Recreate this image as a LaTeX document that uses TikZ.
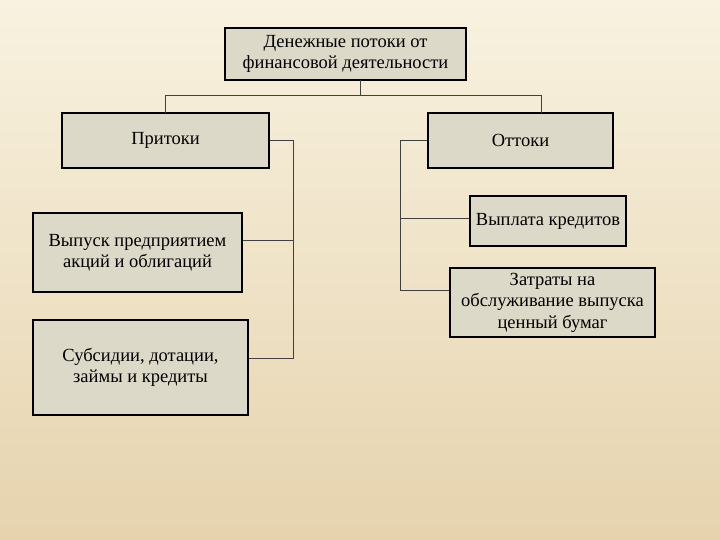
\documentclass[tikz,border=0pt]{standalone}
\usepackage{fontspec}
\setmainfont{Liberation Serif}
\begin{document}
\begin{tikzpicture}[x=1pt,y=-1pt,
  box/.style={draw=black,line width=1.5pt,fill=boxfill,align=center,inner sep=0pt,font=\fontsize{18.5}{21.5}\selectfont},
  conn/.style={draw=black!75,line width=0.9pt}]
\definecolor{boxfill}{HTML}{DDD9C9}
\definecolor{bgtop}{HTML}{F8F2E0}
\definecolor{bgbot}{HTML}{E6D3AE}
\shade[top color=bgtop,bottom color=bgbot] (0,0) rectangle (720,540);
\useasboundingbox (0,0) rectangle (720,540);
\node[box,minimum width=241pt,minimum height=52pt] (top) at (345.5,54) {Денежные потоки от\\финансовой деятельности};
\node[box,minimum width=207pt,minimum height=55pt] (in) at (165.5,140.5) {Притоки};
\node[box,minimum width=185pt,minimum height=55pt] (out) at (520.5,140.5) {Оттоки};
\node[box,minimum width=209pt,minimum height=79pt] (a1) at (137.5,252.5) {Выпуск предприятием\\акций и облигаций};
\node[box,minimum width=215pt,minimum height=95pt] (a2) at (140.5,367.5) {Субсидии, дотации,\\займы и кредиты};
\node[box,minimum width=156pt,minimum height=50pt] (b1) at (548,221) {Выплата кредитов};
\node[box,minimum width=205pt,minimum height=69pt] (b2) at (552.5,302.5) {Затраты на\\обслуживание выпуска\\ценный бумаг};
\coordinate (j) at (360,95);
\draw[conn] (360,80) -- (j);
\draw[conn] (165,113) -- (165,95) -- (541,95) -- (541,113);
\draw[conn] (in.east) -- (293,140.5) -- (293,358) -- (a2.east |- 0,358);
\draw[conn] (293,240) -- (a1.east |- 0,240);
\draw[conn] (out.west) -- (400,140.5) -- (400,290) -- (b2.west |- 0,290);
\draw[conn] (400,218) -- (b1.west |- 0,218);
\end{tikzpicture}
\end{document}
